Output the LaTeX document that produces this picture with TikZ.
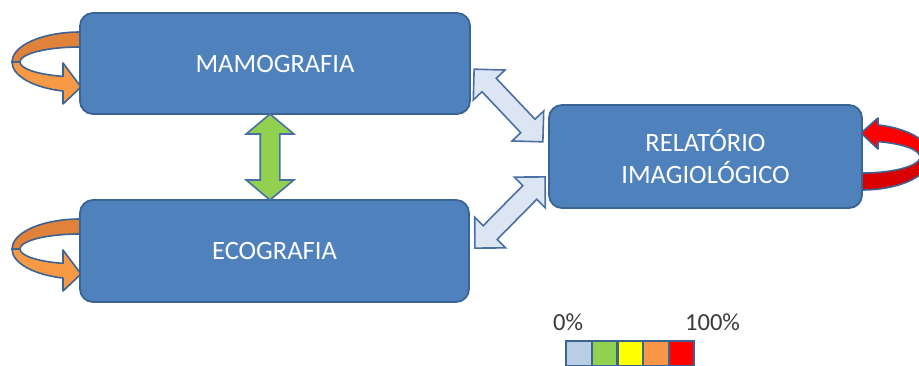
\documentclass[tikz,border=0pt]{standalone}
\usepackage{fontspec}
\setmainfont{Carlito}
\usetikzlibrary{shapes.arrows}
\definecolor{boxfill}{HTML}{4F81BD}
\definecolor{boxedge}{HTML}{3A6494}
\definecolor{lightfill}{HTML}{DCE6F2}
\definecolor{arredge}{HTML}{4A6FA5}
\definecolor{greenfill}{HTML}{92D050}
\definecolor{orangeback}{HTML}{E0823A}
\definecolor{orangefront}{HTML}{F89A45}
\definecolor{redfront}{HTML}{FF0000}
\definecolor{redback}{HTML}{D80000}
\definecolor{loopedge}{HTML}{3D6394}
\definecolor{legblue}{HTML}{B9CDE5}
\definecolor{legyellow}{HTML}{FFFF00}
\definecolor{legorange}{HTML}{F79646}
\definecolor{legred}{HTML}{FF0000}
\definecolor{legtext}{HTML}{3A3A3A}
\begin{document}
\begin{tikzpicture}[x=1pt,y=1pt,
  box/.style={draw=boxedge, line width=1.8pt, fill=boxfill, rounded corners=13pt,
    text=white, font=\fontsize{26.5}{32}\selectfont, align=center, inner sep=0pt},
  dbl/.style={double arrow, draw=arredge, line width=1.6pt, inner xsep=0pt, inner ysep=9pt},
  loopline/.style={draw=loopedge, line width=1.6pt, line join=round},
  cell/.style={draw=boxedge, line width=2.2pt, minimum width=25.6pt,
    minimum height=25pt, inner sep=0pt},
  legtxt/.style={anchor=base west, text=legtext, inner sep=0pt,
    font=\fontsize{24.5}{30}\selectfont}]
\useasboundingbox (0,0) rectangle (919,365);
\clip (0,0) rectangle (919,365);

% self loops on the left of the two exam boxes
\foreach \cy in {303,116}{
  \begin{scope}[shift={(80,\cy)}]
    \filldraw[loopline, fill=orangeback]
      (80:68 and 30) arc[start angle=80, end angle=180, x radius=68, y radius=30]
      -- (180:60 and 15) arc[start angle=180, end angle=80, x radius=60, y radius=15] -- cycle;
    \filldraw[loopline, fill=orangefront]
      (180:68 and 30) arc[start angle=180, end angle=255.52, x radius=68, y radius=30]
      -- (-17,-42) -- (1,-25) -- (-17,-1)
      -- (253.54:60 and 15) arc[start angle=253.54, end angle=180, x radius=60, y radius=15] -- cycle;
  \end{scope}
}

% self loop on the right of the report box
\begin{scope}[shift={(862,208)}, rotate=180]
  \filldraw[loopline, fill=redback]
    (80:69 and 33) arc[start angle=80, end angle=180, x radius=69, y radius=33]
    -- (180:58 and 16) arc[start angle=180, end angle=80, x radius=58, y radius=16] -- cycle;
  \filldraw[loopline, fill=redfront]
    (180:69 and 33) arc[start angle=180, end angle=256.59, x radius=69, y radius=33]
    -- (-16,-39) -- (1,-24) -- (-16,-8)
    -- (253.99:58 and 16) arc[start angle=253.99, end angle=180, x radius=58, y radius=16] -- cycle;
\end{scope}

% boxes
\node[box, minimum width=390pt, minimum height=101pt] (mam) at (275,301.5) {MAMOGRAFIA};
\node[box, minimum width=389pt, minimum height=102pt] (eco) at (274.5,114) {ECOGRAFIA};
\node[box, minimum width=313pt, minimum height=103pt] (rel) at (705.5,208.5) {RELATÓRIO\\IMAGIOLÓGICO};

% block arrows between boxes
\node[dbl, fill=greenfill, rotate=90, minimum height=86pt,
  double arrow head extend=14pt, double arrow tip angle=100] (vert) at (270,208) {};
\node[dbl, fill=lightfill, rotate=-46.6, minimum height=100pt,
  double arrow head extend=12pt] (diagup) at (508.5,259.5) {};
\node[dbl, fill=lightfill, rotate=45.4, minimum height=100pt,
  double arrow head extend=12pt] (diagdn) at (510,152.5) {};

% legend
\node[legtxt] (p0) at (553,35) {0\%};
\node[legtxt] (p100) at (685,35) {100\%};
\foreach \c [count=\i] in {legblue,greenfill,legyellow,legorange,legred}
  \node[cell, fill=\c] (cell\i) at ({579+25.6*(\i-1)},11.5) {};
\end{tikzpicture}
\end{document}
